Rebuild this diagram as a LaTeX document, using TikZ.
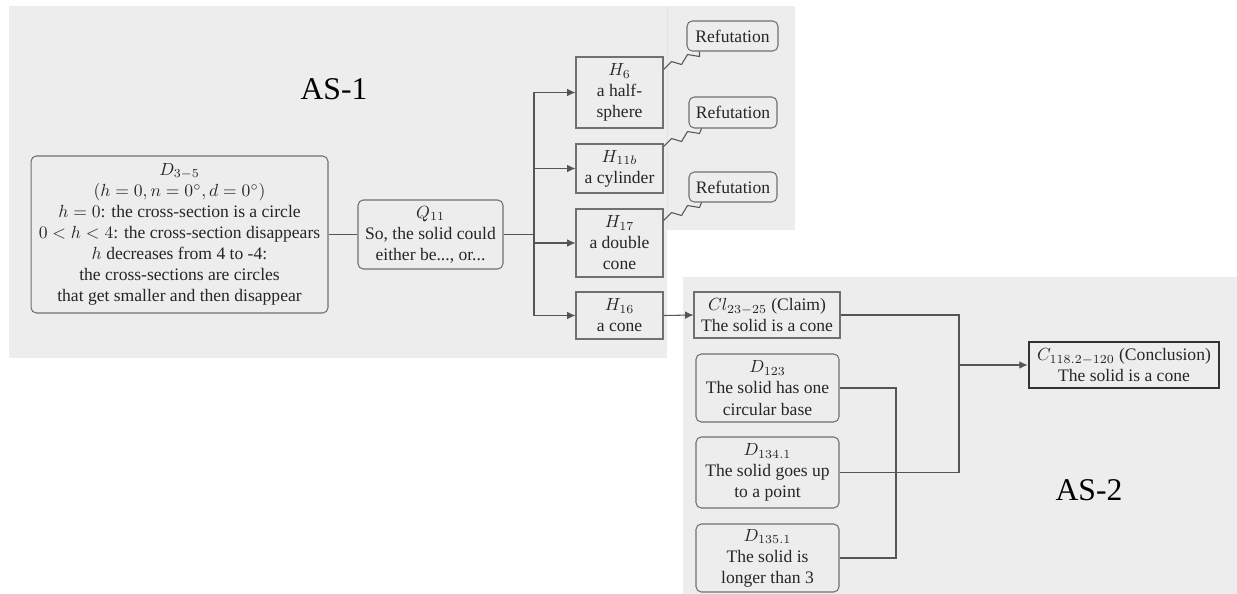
\documentclass[tikz,border=0pt]{standalone}
\usepackage[no-math]{fontspec}
\setmainfont{Liberation Serif}
\usetikzlibrary{arrows.meta,calc}
\definecolor{bggray}{HTML}{EDEDED}
\definecolor{boxline}{HTML}{707070}
\definecolor{conn}{HTML}{555555}
\definecolor{txt}{HTML}{262626}
\tikzset{
  base/.style={draw=boxline, line width=0.6pt, text=txt, align=center, inner sep=1pt, font=\fontsize{10}{12}\selectfont},
  rbox/.style={base, rounded corners=3pt},
  sbox/.style={base},
  cbox/.style={base, draw=black!80, line width=1.5pt},
  line/.style={draw=conn, line width=0.6pt},
  arrow/.style={line, -{Latex[length=4.8pt,width=4.4pt]}},
  zig/.style={draw=conn, line width=0.6pt, line join=round},
  aslabel/.style={font=\fontsize{18}{20}\selectfont, text=black}
}
\begin{document}
\begin{tikzpicture}[x=0.02cm, y=-0.02cm]
\useasboundingbox (0,0) rectangle (1237,594);
% backgrounds
\fill[bggray] (9,6) rectangle (667,358);
\fill[bggray] (667,6) rectangle (795,230);
\fill[bggray] (683,277) rectangle (1237,594);
\draw[black!10, line width=0.4pt] (667,6) -- (667,230);
% labels
\node[aslabel] (as1) at (334,89) {AS-1};
\node[aslabel] (as2) at (1089,490) {AS-2};
% AS-1 nodes
\node[rbox, minimum width=5.94cm, minimum height=3.14cm] (D35) at (179.5,234.5)
  {$D_{3-5}$\\ $(h=0,n=0^\circ,d=0^\circ)$\\ $h=0$: the cross-section is a circle\\ $0<h<4$: the cross-section disappears\\ $h$ decreases from 4 to -4:\\ the cross-sections are circles\\ that get smaller and then disappear};
\node[rbox, minimum width=2.9cm, minimum height=1.38cm] (Q11) at (430.5,234.5)
  {$Q_{11}$\\ So, the solid could\\ either be..., or...};
\node[sbox, minimum width=1.74cm, minimum height=1.42cm] (H6) at (619.5,92.5)
  {$H_6$\\ a half-\\ sphere};
\node[sbox, minimum width=1.74cm, minimum height=0.98cm] (H11) at (619.5,168.5)
  {$H_{11b}$\\ a cylinder};
\node[sbox, minimum width=1.74cm, minimum height=1.36cm] (H17) at (619.5,243)
  {$H_{17}$\\ a double\\ cone};
\node[sbox, minimum width=1.74cm, minimum height=0.94cm] (H16) at (619.5,315.5)
  {$H_{16}$\\ a cone};
\node[rbox, minimum width=1.82cm, minimum height=0.6cm] (R1) at (732.5,36) {Refutation};
\node[rbox, minimum width=1.76cm, minimum height=0.62cm] (R2) at (733,112.5) {Refutation};
\node[rbox, minimum width=1.76cm, minimum height=0.6cm] (R3) at (733,187) {Refutation};
% AS-2 nodes
\node[sbox, minimum width=2.92cm, minimum height=0.92cm] (Cl) at (767,315)
  {$Cl_{23-25}$ (Claim)\\ The solid is a cone};
\node[rbox, minimum width=2.86cm, minimum height=1.36cm] (D123) at (767.5,388)
  {$D_{123}$\\ The solid has one\\ circular base};
\node[rbox, minimum width=2.86cm, minimum height=1.42cm] (D134) at (767.5,472.5)
  {$D_{134.1}$\\ The solid goes up\\ to a point};
\node[rbox, minimum width=2.86cm, minimum height=1.36cm] (D135) at (767.5,558)
  {$D_{135.1}$\\ The solid is\\ longer than 3};
\node[cbox, minimum width=3.8cm, minimum height=0.92cm] (C) at (1124,365)
  {$C_{118.2-120}$ (Conclusion)\\ The solid is a cone};
% connectors AS-1
\coordinate (br) at (534,234.5);
\draw[line] (D35.east) -- (Q11.west);
\draw[line] (Q11.east) -- (br);
\draw[arrow] (br) |- (H6.west);
\draw[arrow] (br) |- (H11.west);
\draw[arrow] (br) |- (H17.west);
\draw[arrow] (br) |- (H16.west);
% zigzags to refutations
\foreach \h/\r in {H6/R1, H11/R2, H17/R3}{
  \coordinate (ze) at ($(\r.south west)+(13,0)$);
  \draw[zig] ($(\h.east |- ze)+(0,18)$) -- ++(8,-8) -- ++(10,3) -- ++(6,-10) -- ++(12,2) -- (ze);
}
% AS-2 connectors
\draw[arrow] (H16.east) -- (Cl.west);
\coordinate (m) at (959,365);
\draw[line] (Cl.east) -| (m) |- (D134.east);
\draw[arrow] (m) -- (C.west);
\coordinate (b) at (896,470);
\draw[line] (D123.east) -| (b) |- (D135.east);
\end{tikzpicture}
\end{document}
